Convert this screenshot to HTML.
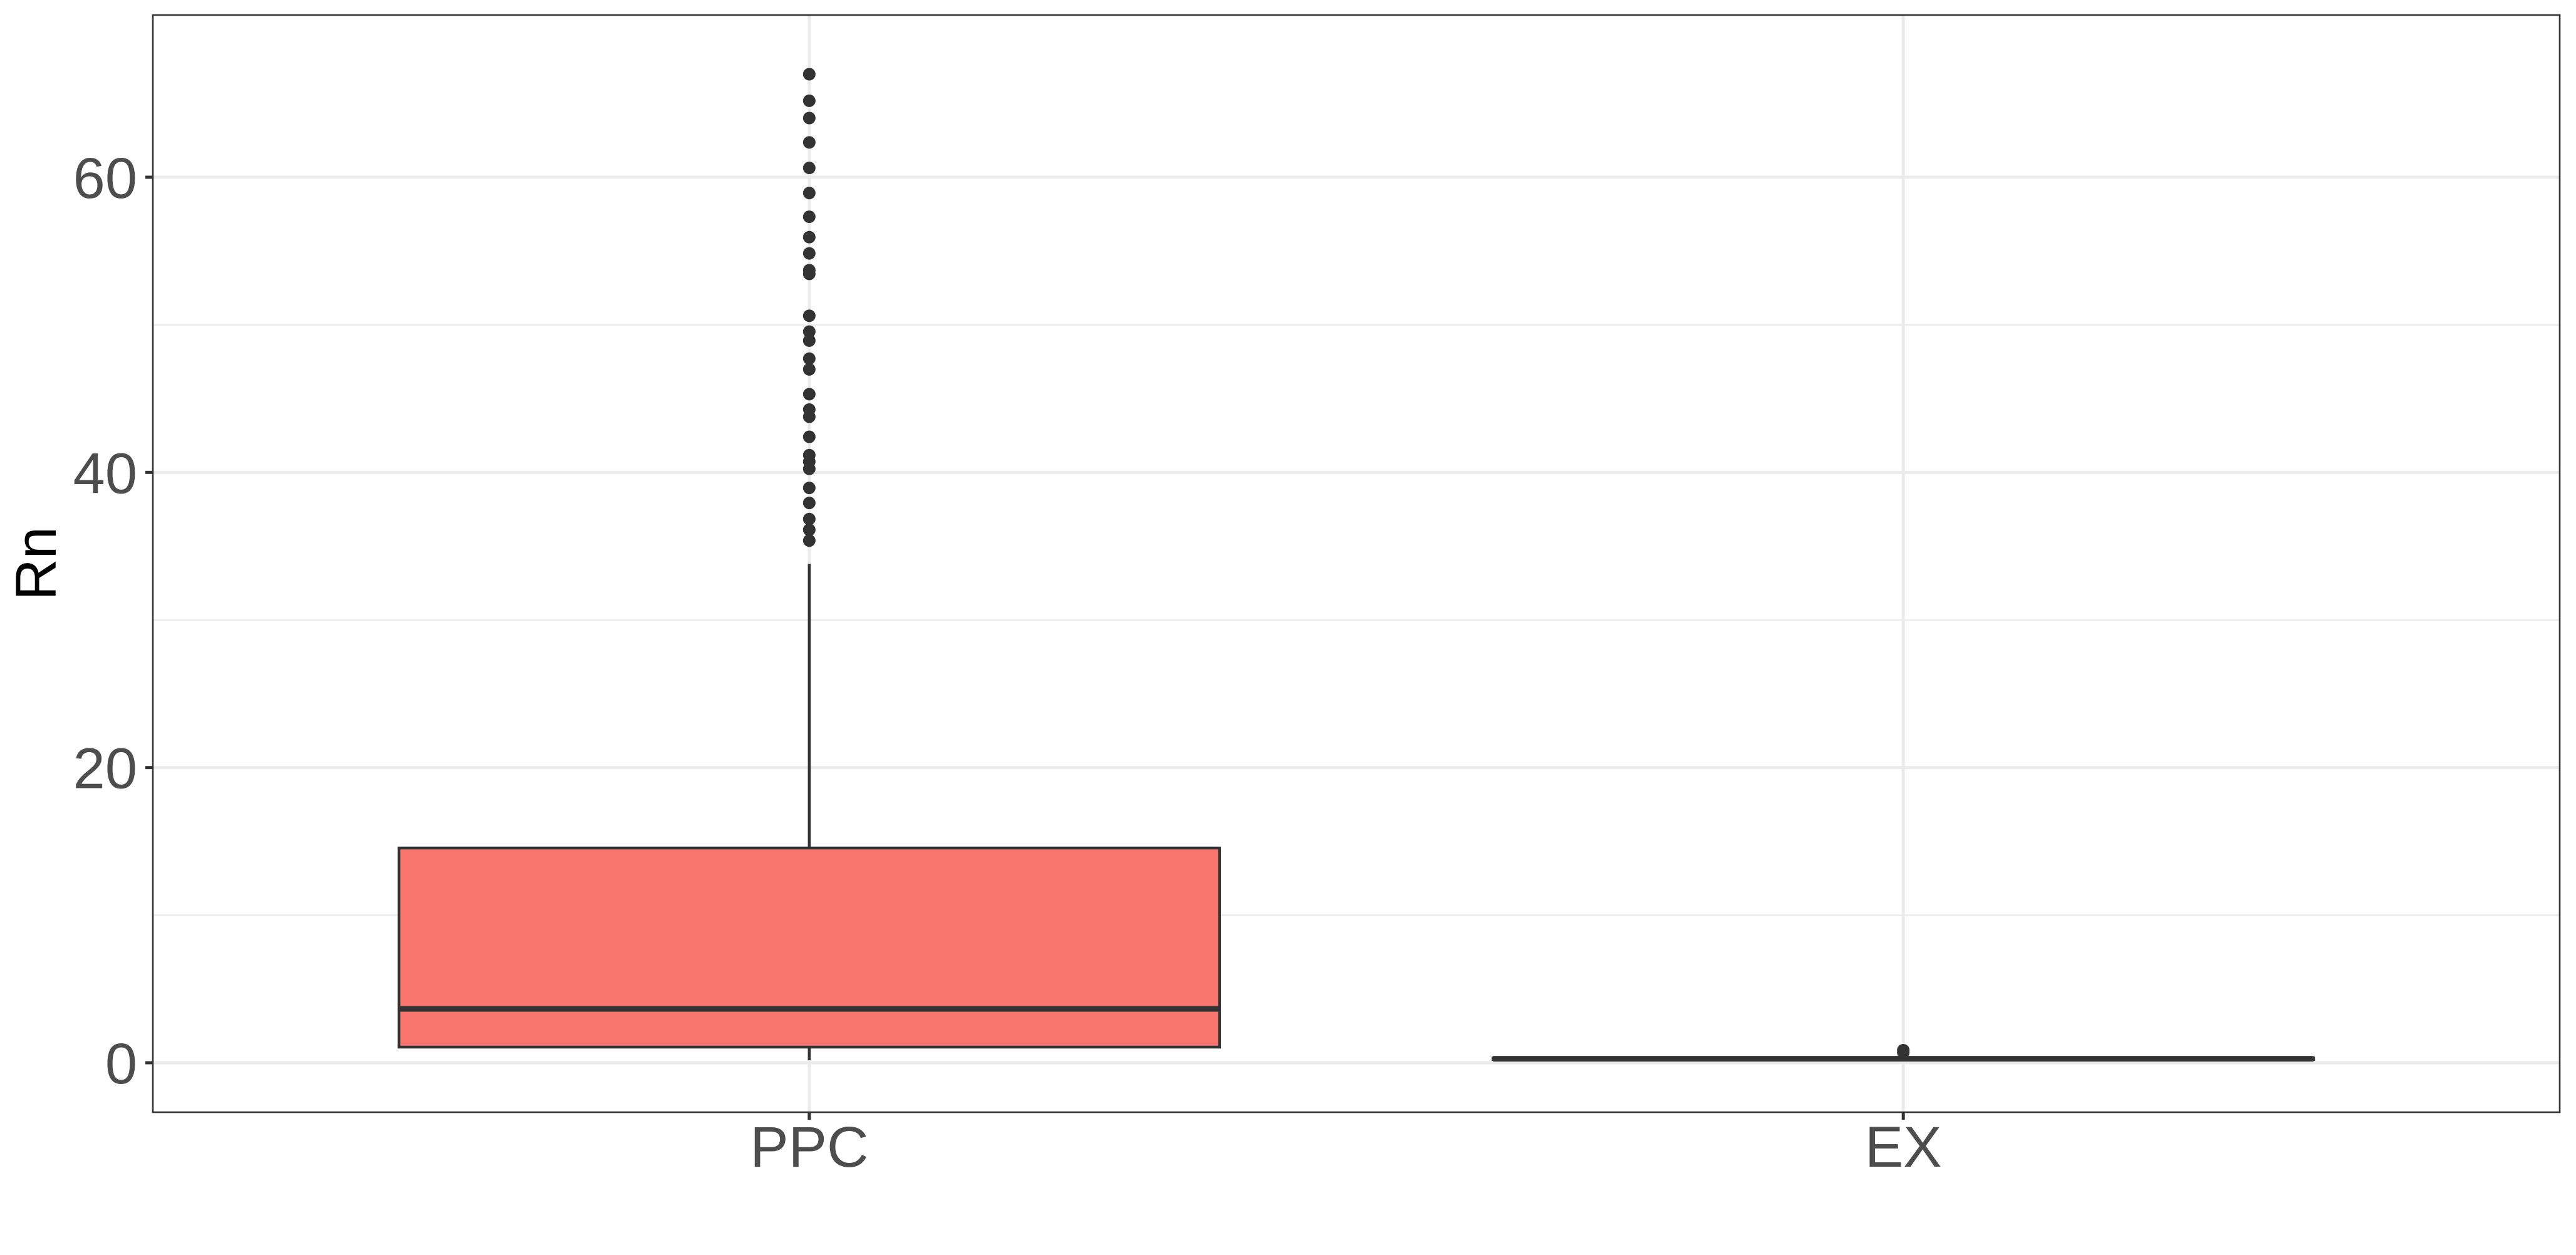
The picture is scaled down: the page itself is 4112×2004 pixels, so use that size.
<!DOCTYPE html>
<html><head><meta charset="utf-8"><style>
html,body{margin:0;padding:0;background:#fff;}
svg{display:block;font-family:"Liberation Sans",Arial,sans-serif;}
</style></head><body>
<svg id="chart" width="4112" height="2004" viewBox="0 0 4112 2004" xmlns="http://www.w3.org/2000/svg">
<rect x="0" y="0" width="4112" height="2004" fill="#fff"/>
<g id="grid"></g>
<g id="marks"></g>
<rect x="244" y="24" width="3842" height="1752" fill="none" stroke="#333" stroke-width="2.6"/>
<g id="axes"></g>
<text x="58" y="900" font-size="92" fill="#000" text-anchor="middle" dominant-baseline="central" transform="rotate(-90 58 900)">Rn</text>
</svg>
<script>
const categories = ["PPC", "EX"];
const lowerWhisker = [0.17, 0.2];
const q1 = [1.06, 0.22];
const median = [3.65, 0.27];
const q3 = [14.55, 0.32];
const upperWhisker = [33.8, 0.35];
const outliersPPC = [66.98,65.18,64.01,62.36,60.63,58.93,57.32,55.94,54.84,53.7,53.45,50.61,49.54,48.93,47.71,46.98,45.3,44.26,43.77,42.41,41.17,40.73,40.24,38.95,37.93,36.84,36.11,35.38];
const outliersEX = [0.85, 0.7];
const yTicks = [0, 20, 40, 60];
const yMinor = [10, 30, 50];

const NS = "http://www.w3.org/2000/svg";
const L = 244, R = 4086, T = 24, B = 1776;
function y(v){ return 1697 + (283 - 1697) * v / 60; }
const step = (R - L) / 2.2;
function x(i){ return L + step * (0.6 + i); }
const halfW = step * 0.375;
function mk(tag, attrs, parent){ const e = document.createElementNS(NS, tag); for (const k in attrs) e.setAttribute(k, attrs[k]); parent.appendChild(e); return e; }
const grid = document.getElementById("grid"), marks = document.getElementById("marks"), axes = document.getElementById("axes");

yMinor.forEach(v => {
  const g = mk("line", {x1: L, x2: R, y1: y(v), y2: y(v), stroke: "#ebebeb", "stroke-width": 2.6}, grid);
  
  
});
yTicks.forEach(v => {
  const g = mk("line", {x1: L, x2: R, y1: y(v), y2: y(v), stroke: "#ebebeb", "stroke-width": 5}, grid);
  
  
  const t = mk("line", {x1: 232, x2: L, y1: y(v), y2: y(v), stroke: "#333", "stroke-width": 5}, axes);
  
  
  const lab = mk("text", {x: 219, y: y(v) + 33, "font-size": 92, fill: "#4d4d4d", "text-anchor": "end"}, axes);
  lab.textContent = v;
  
  
});
categories.forEach((c, i) => {
  const g = mk("line", {x1: x(i), x2: x(i), y1: T, y2: B, stroke: "#ebebeb", "stroke-width": 5}, grid);
  
  
  const t = mk("line", {x1: x(i), x2: x(i), y1: B, y2: B + 12, stroke: "#333", "stroke-width": 5}, axes);
  
  
  const lab = mk("text", {x: x(i), y: 1863, "font-size": 92, fill: "#4d4d4d", "text-anchor": "middle"}, axes);
  lab.textContent = c;
  
  

  const w1 = mk("line", {x1: x(i), x2: x(i), y1: y(q3[i]), y2: y(upperWhisker[i]), stroke: "#333", "stroke-width": 4.5}, marks);
  
  
  const w2 = mk("line", {x1: x(i), x2: x(i), y1: y(q1[i]), y2: y(lowerWhisker[i]), stroke: "#333", "stroke-width": 4.5}, marks);
  
  
  const box = mk("rect", {x: x(i) - halfW, y: y(q3[i]), width: 2 * halfW, height: Math.max(0.5, y(q1[i]) - y(q3[i])), fill: "#F8766D", stroke: "#333", "stroke-width": 4.5}, marks);
  
  
  const md = mk("line", {x1: x(i) - halfW, x2: x(i) + halfW, y1: y(median[i]), y2: y(median[i]), stroke: "#333", "stroke-width": 9}, marks);
  
  
});
[outliersPPC, outliersEX].forEach((arr, i) => {
  arr.forEach(v => {
    const p = mk("circle", {cx: x(i), cy: y(v), r: 10, fill: "#333"}, marks);
    
    
  });
});
</script>
</body></html>
